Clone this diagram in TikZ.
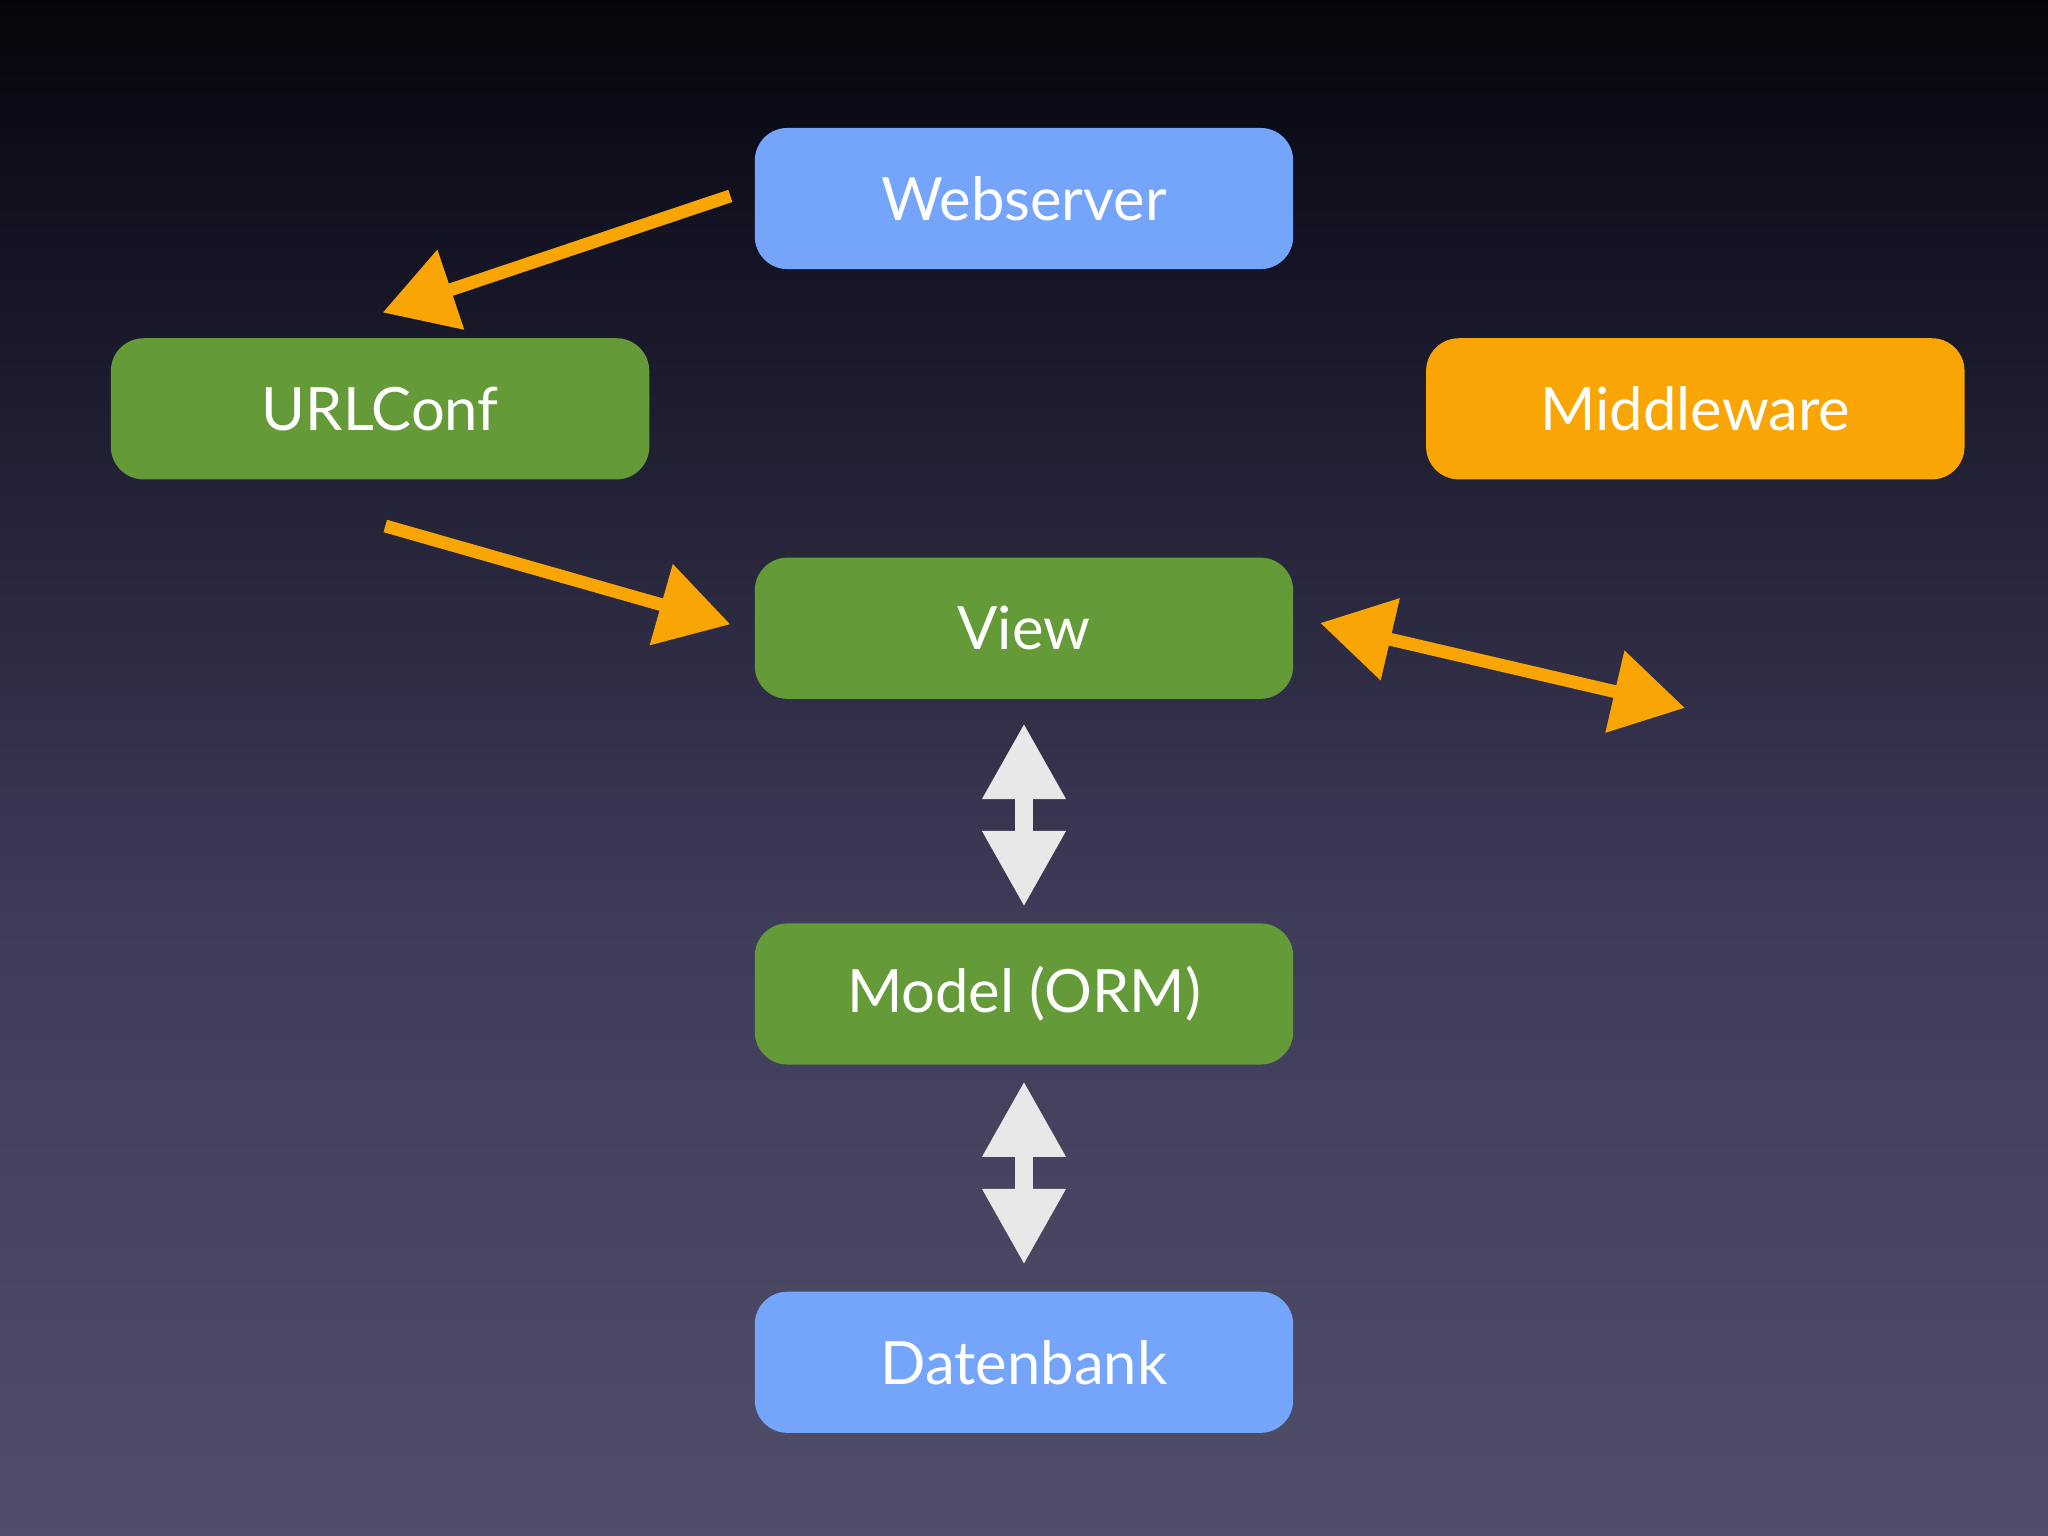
\documentclass[tikz,border=0pt]{standalone}
\usepackage{fontspec}
\setmainfont{Lato}
\usetikzlibrary{arrows.meta}
\definecolor{slidebottom}{HTML}{66647E}
\definecolor{slidemid}{HTML}{3E3C58}
\definecolor{slidetop}{HTML}{0E0E1C}
\pgfdeclareverticalshading{slidebg}{100bp}{%
  color(0bp)=(slidebottom); color(45bp)=(slidemid); color(70bp)=(slidetop); color(78bp)=(black); color(100bp)=(black)}
\definecolor{boxblue}{HTML}{75A5FB}
\definecolor{boxgreen}{HTML}{649A38}
\definecolor{boxorange}{HTML}{F9A503}
\definecolor{arrorange}{HTML}{F9A503}
\definecolor{arrwhite}{HTML}{E8E8E8}
\tikzset{
  box/.style={rounded corners=0.25cm, minimum width=4.12cm, minimum height=1.08cm,
    text=white, font=\fontsize{13}{15}\selectfont, inner sep=0pt},
  flow/.style={draw=arrorange, line width=2.8pt,
    -{Triangle[length=0.55cm,width=0.62cm]}},
  both/.style={flow, {Triangle[length=0.55cm,width=0.62cm]}-{Triangle[length=0.55cm,width=0.62cm]}},
  data/.style={draw=arrwhite, line width=4pt,
    {Triangle[length=0.58cm,width=0.6cm]}-{Triangle[length=0.58cm,width=0.6cm]}}
}
\begin{document}
\begin{tikzpicture}[x=0.01cm,y=-0.01cm]

	% Background
	\shade[shading=slidebg] (0,0) rectangle (1568,1176);
	\useasboundingbox (0,0) rectangle (1568,1176);

	% Boxes
	\node[box, fill=boxblue] (web) at (784,152) {Webserver};
	\node[box, fill=boxgreen] (urlconf) at (291,313) {URLConf};
	\node[box, fill=boxorange] (mw) at (1298,313) {Middleware};
	\node[box, fill=boxgreen] (view) at (784,481) {View};
	\node[box, fill=boxgreen] (model) at (784,761) {Model (ORM)};
	\node[box, fill=boxblue] (db) at (784,1043) {Datenbank};
	\coordinate (mwend) at (1290,542);

	% Request flow
	\draw[flow] ([shift={(-18,-2)}]web.west) -- ([shift={(2,-19)}]urlconf.north);
	\draw[flow] ([shift={(4,35)}]urlconf.south) -- ([shift={(-18,-3)}]view.west);
	\draw[both] ([shift={(20,-4)}]view.east) -- (mwend);

	% Data access
	\draw[data] ([shift={(0,18)}]view.south) -- ([shift={(0,-12)}]model.north);
	\draw[data] ([shift={(0,12)}]model.south) -- ([shift={(0,-20)}]db.north);

\end{tikzpicture}
\end{document}
